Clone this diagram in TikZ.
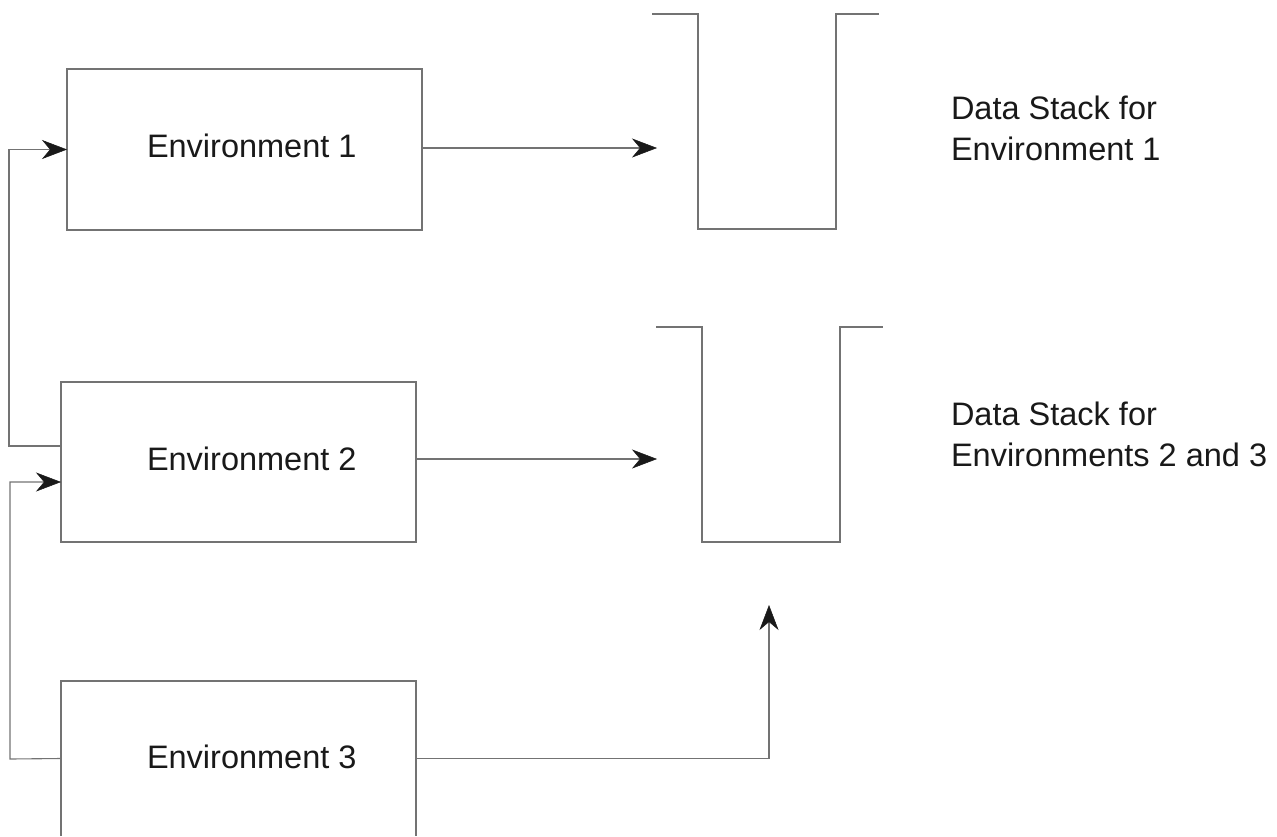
\documentclass[tikz,border=0pt]{standalone}
\usepackage{fontspec}
\setmainfont{Liberation Sans}
\usetikzlibrary{arrows.meta}
\begin{document}
\begin{tikzpicture}[x=1pt,y=-1pt,
  line/.style={draw=black!55,line width=1.1pt},
  arr/.style={line,-{Stealth[length=25pt,width=19pt,inset=8pt,color=black!90,fill=black!90,line width=0.5pt]}},
  envbox/.style={line,rectangle,inner sep=0pt,outer sep=0pt,minimum width=355pt},
  stackbox/.style={rectangle,draw=none,inner sep=0pt,outer sep=0pt,minimum width=138pt,minimum height=215pt},
  lbl/.style={inner sep=0pt,outer sep=0pt,font=\fontsize{32.5}{41}\selectfont,text=black!90},
]
\useasboundingbox (0,0) rectangle (1277,836);
% environment boxes
\node[envbox,minimum height=161pt] (b1) at (244.5,149.5) {};
\node[envbox,minimum height=160pt] (b2) at (238.5,462) {};
\node[envbox,draw=none,minimum height=155pt] (b3) at (238.5,758.5) {};
\draw[line] (b3.south west) -- (b3.north west) -- (b3.north east) -- (b3.south east);
% box texts
\node[lbl,anchor=base west] (t1) at (147,157) {Environment 1};
\node[lbl,anchor=base west] (t2) at (147,470) {Environment 2};
\node[lbl,anchor=base west] (t3) at (147,768) {Environment 3};
% stacks
\node[stackbox] (s1) at (767,121.5) {};
\node[stackbox] (s2) at (771,434.5) {};
\draw[line] ([xshift=-46pt]s1.north west) -- (s1.north west) -- (s1.south west) -- (s1.south east) -- (s1.north east) -- ([xshift=43pt]s1.north east);
\draw[line] ([xshift=-46pt]s2.north west) -- (s2.north west) -- (s2.south west) -- (s2.south east) -- (s2.north east) -- ([xshift=43pt]s2.north east);
% stack labels
\node[lbl,anchor=north west,align=left] (d1) at (951,96.3) {Data Stack for\\Environment 1};
\node[lbl,anchor=north west,align=left] (d2) at (951,402) {Data Stack for\\Environments 2 and 3};
% coordinates
\coordinate (p1) at (657,148);
\coordinate (p2) at (657,459);
\coordinate (p3) at (769,605);
\coordinate (l2) at (9,446);
\coordinate (l3) at (10,759);
\coordinate (e2) at (61,482);
% connectors
\draw[arr] (b1.east |- p1) -- (p1);
\draw[arr] (b2.east |- p2) -- (p2);
\draw[arr] (b3.east) -| (p3);
\draw[arr] (b2.west |- l2) -- (l2) |- (b1.west);
\draw[arr] (b3.west) -- (l3) |- (e2);
\end{tikzpicture}
\end{document}
